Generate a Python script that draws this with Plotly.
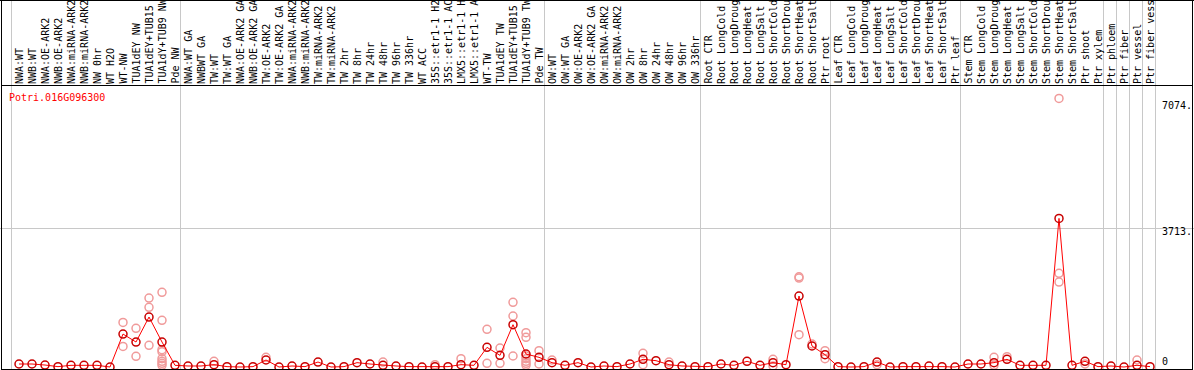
import plotly.graph_objects as go

title = "Potri.016G096300"

categories = [
    "NWA:WT", "NWB:WT", "NWA:OE-ARK2", "NWB:OE-ARK2", "NWA:miRNA-ARK2", "NWB:miRNA-ARK2",
    "NW 0hr", "WT H2O", "WT-NW", "TUA1dEY NW", "TUA1dEY+TUB15 NW", "TUA1dY+TUB9 NW", "Pde NW",
    "NWA:WT GA", "NWBWT GA", "TW:WT", "TW:WT GA", "NWA:OE-ARK2 GA", "NWB:OE-ARK2 GA",
    "TW:OE-ARK2", "TW:OE-ARK2 GA", "NWA:miRNA-ARK2", "NWB:miRNA-ARK2", "TW:miRNA-ARK2",
    "TW:miRNA-ARK2", "TW 2hr", "TW 8hr", "TW 24hr", "TW 48hr", "TW 96hr", "TW 336hr",
    "WT ACC", "35S::etr1-1 H2O", "35S::etr1-1 ACC", "LMX5::etr1-1 H2O", "LMX5::etr1-1 ACC",
    "WT-TW", "TUA1dEY TW", "TUA1dEY+TUB15 TW", "TUA1dY+TUB9 TW", "Pde TW",
    "OW:WT", "OW:WT GA", "OW:OE-ARK2", "OW:OE-ARK2 GA", "OW:miRNA-ARK2", "OW:miRNA-ARK2",
    "OW 2hr", "OW 8hr", "OW 24hr", "OW 48hr", "OW 96hr", "OW 336hr",
    "Root CTR", "Root LongCold", "Root LongDrought", "Root LongHeat", "Root LongSalt",
    "Root ShortCold", "Root ShortDrought", "Root ShortHeat", "Root ShortSalt", "Ptr root",
    "Leaf CTR", "Leaf LongCold", "Leaf LongDrought", "Leaf LongHeat", "Leaf LongSalt",
    "Leaf ShortCold", "Leaf ShortDrought", "Leaf ShortHeat", "Leaf ShortSalt", "Ptr leaf",
    "Stem CTR", "Stem LongCold", "Stem LongDrought", "Stem LongHeat", "Stem LongSalt",
    "Stem ShortCold", "Stem ShortDrought", "Stem ShortHeat", "Stem ShortSalt", "Ptr shoot",
    "Ptr xylem", "Ptr phloem", "Ptr fiber", "Ptr vessel", "Ptr fiber vessel",
]

mean_values = [
    80, 80, 53, 10, 45, 45, 45, 0, 880, 667, 1335, 667, 45,
    27, 27, 62, 10, 0, 10, 187, 0, 27, 10, 133, 0, 10, 116, 80, 45, 27, 10, 0, 10, 10,
    62, 45, 525, 311, 1130, 347, 258,
    116, 45, 116, 0, 27, 10, 80, 205, 169, 62, 27, 10,
    10, 80, 45, 152, 45, 116, 62, 1896, 561, 329,
    10, 0, 10, 133, 0, 10, 10, 27, 10, 0,
    80, 80, 116, 205, 45, 45, 45, 3970, 45, 152, 10,
    27, 0, 45, 10,
]

replicate_values = {
    8: [1190, 550],
    9: [1033, 285],
    10: [1842, 1594, 579],
    11: [1994, 1247, 462, 409, 222, 152, 98, 45],
    15: [152],
    19: [258],
    28: [133],
    32: [62],
    34: [222],
    36: [1006, 98],
    37: [507, 98],
    38: [1727, 1362, 294],
    39: [916, 793, 294, 222, 152, 98, 45],
    40: [435, 80],
    41: [187],
    48: [365, 62],
    50: [133],
    58: [205, 27],
    60: [2411, 2376, 862],
    61: [614],
    62: [435, 222],
    66: [62],
    75: [258, 45],
    76: [276],
    80: [7174, 2502, 2269],
    82: [80],
    86: [187],
}

group_boundaries = [0, 13, 41, 53, 63, 73, 84, 85, 86, 87, 88]

tick_values = [0, 3713, 7074]
tick_labels = ["0", "3713.", "7074."]
grid_values = [3713]

W, H = 1194, 370
ZERO_PX = 367.0
PPU = (367.0 - 228.0) / 3713.0
X0_PX, STEP_PX = 19.0, 13.0
PLOT_TOP_PX, PLOT_BOT_PX = 85.0, 369.0

xs = list(range(len(categories)))
rep_x, rep_y = [], []
for i, vals in replicate_values.items():
    for v in vals:
        rep_x.append(i)
        rep_y.append(v)

fig = go.Figure()
fig.add_trace(go.Scatter(x=rep_x, y=rep_y, mode="markers",
                         marker=dict(symbol="circle-open", size=8, color="#f09a9a", line=dict(width=1.5)),
                         hoverinfo="skip", showlegend=False))
fig.add_trace(go.Scatter(x=xs, y=mean_values, mode="lines",
                         line=dict(color="#ff0000", width=1), hoverinfo="skip", showlegend=False))
fig.add_trace(go.Scatter(x=xs, y=mean_values, mode="markers",
                         marker=dict(symbol="circle-open", size=8, color="#c80000", line=dict(width=1.5)),
                         showlegend=False))

shapes = []
for k in group_boundaries:
    xb = k - (X0_PX - 11.5) / STEP_PX
    shapes.append(dict(type="line", xref="x", yref="paper", x0=xb, x1=xb,
                       y0=1 - PLOT_BOT_PX / H, y1=1, line=dict(color="#c8c8c8", width=1), layer="below"))
def hline(ypx, x0px=0, x1px=W):
    return dict(type="line", xref="paper", yref="paper", x0=x0px / W, x1=x1px / W,
                y0=1 - ypx / H, y1=1 - ypx / H, line=dict(color="black", width=1))
def vline(xpx, y0px=0, y1px=H):
    return dict(type="line", xref="paper", yref="paper", x0=xpx / W, x1=xpx / W,
                y0=1 - y0px / H, y1=1 - y1px / H, line=dict(color="black", width=1))
shapes += [hline(0.5), hline(85.5, 1, 1193), hline(369.5, 1, 1193), vline(1.5, 0, 370), vline(1192.5, 0, 370)]

annotations = []
for i, name in enumerate(categories):
    annotations.append(dict(x=i, xref="x", y=1 - 84 / H, yref="paper", text=name,
                            textangle=-90, xanchor="center", yanchor="bottom", showarrow=False,
                            borderpad=0, borderwidth=0,
                            font=dict(family="DejaVu Sans Mono", size=10, color="black")))
annotations.append(dict(x=9 / W, xref="paper", y=1 - 97 / H, yref="paper", text=title,
                        xanchor="left", yanchor="middle", showarrow=False, borderpad=0, borderwidth=0,
                        font=dict(family="DejaVu Sans Mono", size=10, color="#ff0000")))
for v, t in zip(tick_values, tick_labels):
    annotations.append(dict(x=1162 / W, xref="paper", y=v, yref="y", text=t,
                            xanchor="left", yanchor="top" if v > 0 else "bottom",
                            yshift=2 if v > 0 else 0, showarrow=False, borderpad=0, borderwidth=0,
                            font=dict(family="DejaVu Sans Mono", size=10, color="black")))

fig.update_layout(
    width=W, height=H, margin=dict(l=0, r=0, t=0, b=0),
    paper_bgcolor="white", plot_bgcolor="white",
    shapes=shapes, annotations=annotations, showlegend=False,
    xaxis=dict(range=[-X0_PX / STEP_PX, (W - X0_PX) / STEP_PX], visible=False, fixedrange=True),
    yaxis=dict(domain=[1 - PLOT_BOT_PX / H, 1 - PLOT_TOP_PX / H],
               range=[-(PLOT_BOT_PX - ZERO_PX) / PPU, (ZERO_PX - PLOT_TOP_PX) / PPU],
               tickvals=grid_values, showticklabels=False, ticks="", showgrid=True,
               gridcolor="#c8c8c8", gridwidth=1, zeroline=False, fixedrange=True),
)

fig.write_html("out.html", config={"displayModeBar": False},
               post_script="document.body.style.margin='0';document.body.style.overflow='hidden';")
